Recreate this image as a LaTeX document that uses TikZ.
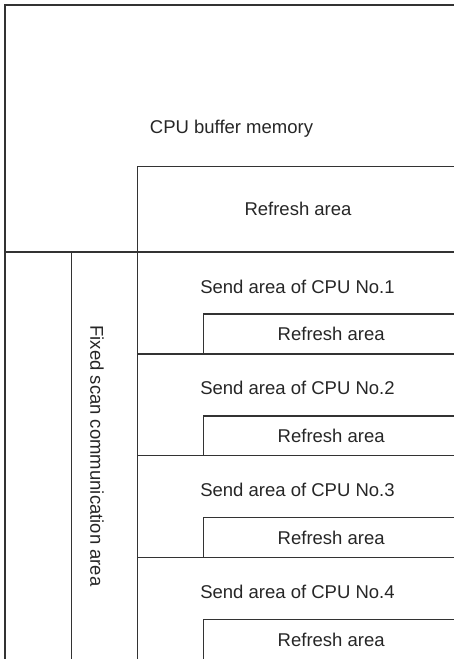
\documentclass[tikz,border=0pt]{standalone}
\usepackage{fontspec}
\setmainfont{Liberation Sans}
\tikzset{
  ln/.style={draw=black!80, line width=1.4pt},
  lbl/.style={font=\fontsize{18.5}{22}\selectfont, text=black!85, inner sep=0pt}
}
\begin{document}
\begin{tikzpicture}[x=1pt,y=-1pt]
\useasboundingbox (0,0) rectangle (454,659);
% outer frame
\draw[ln] (5,659) -- (5,5) -- (454,5);
\node[lbl] (cpubuf) at (231.5,128.5) {CPU buffer memory};
% top refresh area
\draw[ln] (137.7,252) -- (137.7,166.7) -- (454,166.7);
\node[lbl] (reftop) at (298,209) {Refresh area};
\draw[ln, line width=1.8pt] (5,252) -- (454,252);
% vertical columns
\draw[ln] (71.7,252) -- (71.7,659);
\draw[ln] (137.7,252) -- (137.7,659);
\node[lbl, rotate=-90] (fixed) at (97,456) {Fixed scan communication area};
% sections
\foreach \i in {0,1,2,3} {
  \pgfmathsetmacro{\yz}{252+101.8*\i}
  \pgfmathsetmacro{\yr}{\yz+62}
  \pgfmathsetmacro{\yb}{min(\yz+101.8,659)}
  \draw[ln] (203.3,\yb) -- (203.3,\yr) -- (454,\yr);
  \node[lbl] (send\i) at (297.5,\yz+34.5) {Send area of CPU No.\the\numexpr\i+1\relax};
  \node[lbl] (ref\i) at (331.2,\yz+82) {Refresh area};
}
\foreach \i in {1,2,3} {
  \pgfmathsetmacro{\yz}{252+101.8*\i}
  \draw[ln] (137.7,\yz) -- (454,\yz);
}
\end{tikzpicture}
\end{document}
